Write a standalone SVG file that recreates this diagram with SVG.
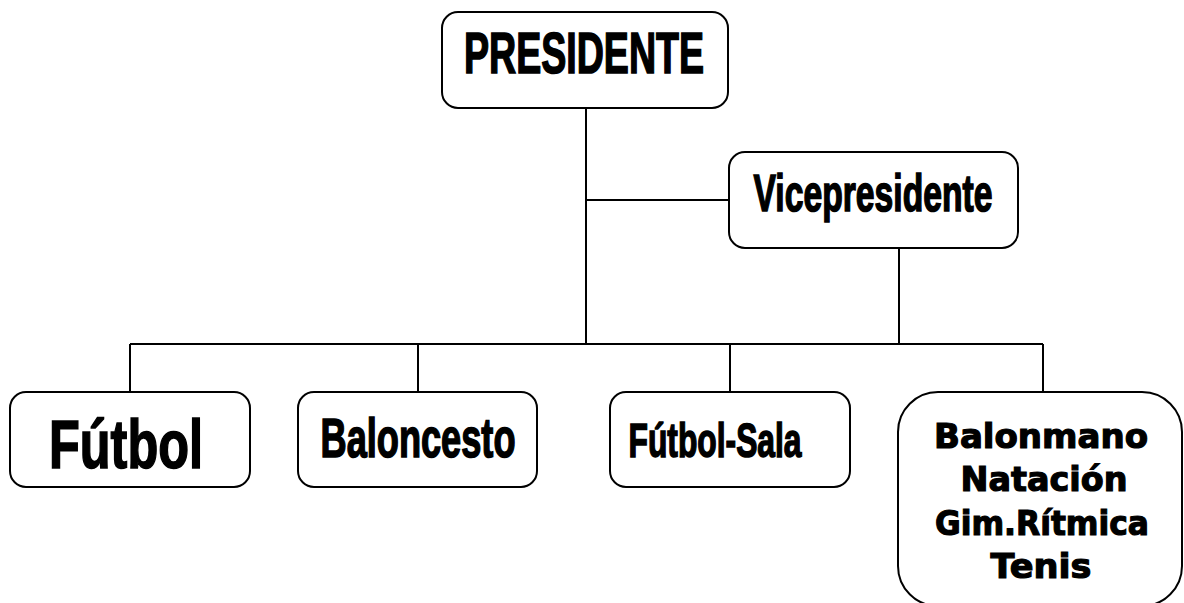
<svg xmlns="http://www.w3.org/2000/svg" width="1184" height="603" viewBox="0 0 1184 603">
<style>
.box{fill:#fff;stroke:#000;stroke-width:2}
.ln{stroke:#000;stroke-width:2;fill:none}
.t{font-family:"Liberation Sans",Arial,sans-serif;font-weight:bold;fill:#000;stroke:#000;stroke-width:1.6;text-anchor:middle}
.k{font-family:"DejaVu Sans","Liberation Sans",sans-serif;font-weight:bold;fill:#000;stroke:#000;stroke-width:1.2;text-anchor:middle;font-size:34px}
</style>
<rect width="1184" height="603" fill="#fff"/>
<g id="connectors">
<path class="ln" d="M586 108V344M586 200H729M899 248V344M130 344H1043M130 344V392M418 344V392M730 344V392M1043 344V392"/>
</g>
<g id="presidente">
<rect class="box" x="442" y="12" width="286" height="96" rx="16"/>
<text class="t" x="584" y="73" font-size="57" textLength="240" lengthAdjust="spacingAndGlyphs">PRESIDENTE</text>
</g>
<g id="vicepresidente">
<rect class="box" x="729" y="152" width="289" height="96" rx="16"/>
<text class="t" x="873" y="211" font-size="52" textLength="239" lengthAdjust="spacingAndGlyphs">Vicepresidente</text>
</g>
<g id="futbol">
<rect class="box" x="10" y="392" width="240" height="95" rx="16"/>
<text class="t" x="126" y="468" font-size="68" textLength="154" lengthAdjust="spacingAndGlyphs">Fútbol</text>
</g>
<g id="baloncesto">
<rect class="box" x="298" y="392" width="239" height="95" rx="16"/>
<text class="t" x="418" y="457" font-size="55" textLength="195" lengthAdjust="spacingAndGlyphs">Baloncesto</text>
</g>
<g id="futbol-sala">
<rect class="box" x="610" y="392" width="240" height="95" rx="16"/>
<text class="t" x="715" y="457" font-size="49" textLength="173" lengthAdjust="spacingAndGlyphs">Fútbol-Sala</text>
</g>
<g id="otros">
<rect class="box" x="898" y="392" width="284" height="214" rx="40"/>
<text class="k" x="1041" y="448" textLength="214" lengthAdjust="spacingAndGlyphs">Balonmano</text>
<text class="k" x="1044" y="491" textLength="167" lengthAdjust="spacingAndGlyphs">Natación</text>
<text class="k" x="1042" y="535" textLength="214" lengthAdjust="spacingAndGlyphs">Gim.Rítmica</text>
<text class="k" x="1041" y="578" textLength="101" lengthAdjust="spacingAndGlyphs">Tenis</text>
</g>
</svg>
